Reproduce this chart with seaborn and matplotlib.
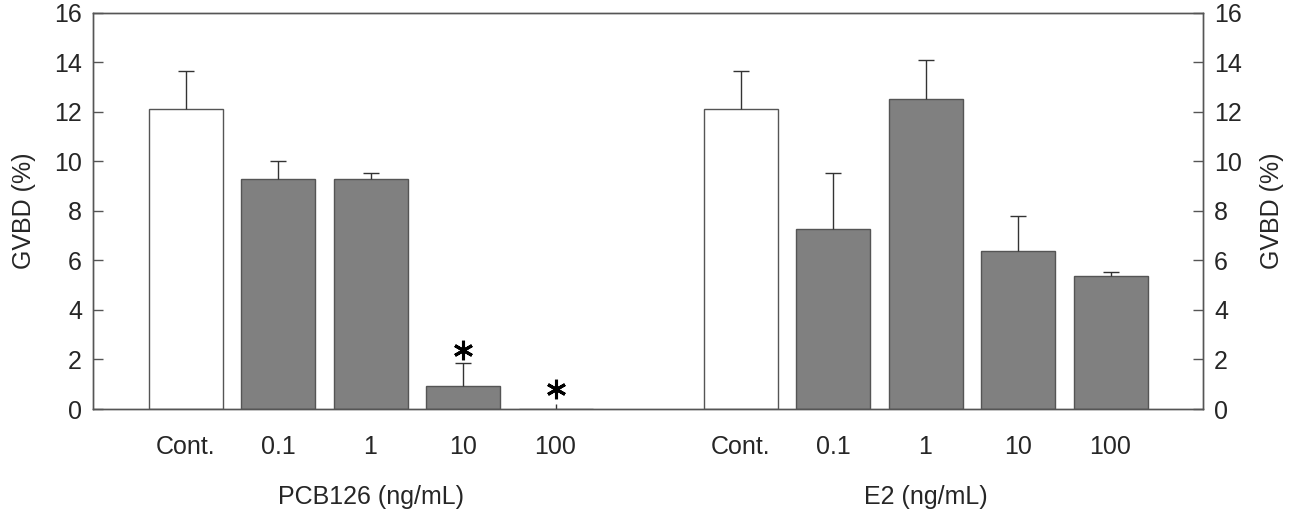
import numpy as np
import pandas as pd
import matplotlib
matplotlib.use("Agg")
import matplotlib.pyplot as plt
import matplotlib.transforms as mtransforms
import seaborn as sns

sns.set_style("white")
plt.rcParams['font.family'] = ['Liberation Sans', 'DejaVu Sans']

# data
labels = ['Cont.', '0.1', '1', '10', '100']
pcb_mean = [12.12, 9.30, 9.27, 0.92, 0.0]
pcb_err = [1.51, 0.72, 0.26, 0.95, 0.19]
e2_mean = [12.12, 7.25, 12.51, 6.37, 5.38]
e2_err = [1.51, 2.26, 1.59, 1.43, 0.16]
groups = ['PCB126 (ng/mL)', 'E2 (ng/mL)']
star_y = [None, None, None, 2.38, 0.82]   # asterisk heights over PCB126 bars

pos = list(range(5)) + list(range(6, 11))
df = pd.DataFrame({
    'pos': pos,
    'label': labels + labels,
    'gvbd': pcb_mean + e2_mean,
    'err': pcb_err + e2_err,
    'kind': ['ctrl' if l == 'Cont.' else 'treat' for l in labels + labels],
})

edge = '#555555'
fs = 18
fig = plt.figure(figsize=(12.99, 5.11), dpi=100)
ax = fig.add_axes([0.0716, 0.1996, 0.8545, 0.7755])

sns.barplot(data=df, x='pos', y='gvbd', hue='kind', native_scale=True,
            palette={'ctrl': 'white', 'treat': '#808080'}, width=0.8,
            edgecolor=edge, linewidth=1.0, legend=False, errorbar=None, ax=ax)

# upper error bars only (no cap where the bar is empty)
for has_bar, cap in [(True, 5.5), (False, 0)]:
    d = df[(df['gvbd'] > 0) == has_bar]
    eb = ax.errorbar(d['pos'], d['gvbd'], yerr=[np.zeros(len(d)), d['err']],
                     fmt='none', ecolor='#333333', elinewidth=1.0, capsize=cap, capthick=1.0)
    if cap:
        eb[1][0].set_visible(False)

# significance marks
for i, y in enumerate(star_y):
    if y is not None:
        ax.plot(pos[i], y, marker=(6, 2, 0), markersize=14,
                markeredgewidth=2.2, color='black', linestyle='none')

ax.set_xlim(-1, 11)
ax.set_ylim(0, 16)
ax.set_yticks(range(0, 17, 2))
ax.set_xticks(pos)
ax.set_xticklabels(df['label'])
ax.set_xlabel('')
ax.set_ylabel('GVBD (%)', fontsize=fs, labelpad=13)
ax.tick_params(axis='x', length=0, pad=19, labelsize=fs)
ax.tick_params(axis='y', direction='in', length=7, width=1, color=edge,
               labelsize=fs, pad=8)
for sp in ax.spines.values():
    sp.set_color(edge)
    sp.set_linewidth(1.0)

ax2 = ax.twinx()
ax2.set_ylim(0, 16)
ax2.set_yticks(range(0, 17, 2))
ax2.set_ylabel('GVBD (%)', fontsize=fs, labelpad=13)
ax2.tick_params(axis='y', direction='in', length=7, width=1, color=edge,
                labelsize=fs, pad=8)
for sp in ax2.spines.values():
    sp.set_color(edge)
    sp.set_linewidth(1.0)

trans = mtransforms.blended_transform_factory(ax.transData, ax.transAxes)
ax.text(2, -0.222, groups[0], transform=trans, ha='center', va='center', fontsize=fs)
ax.text(8, -0.222, groups[1], transform=trans, ha='center', va='center', fontsize=fs)

fig.savefig('out.png', dpi=100)
